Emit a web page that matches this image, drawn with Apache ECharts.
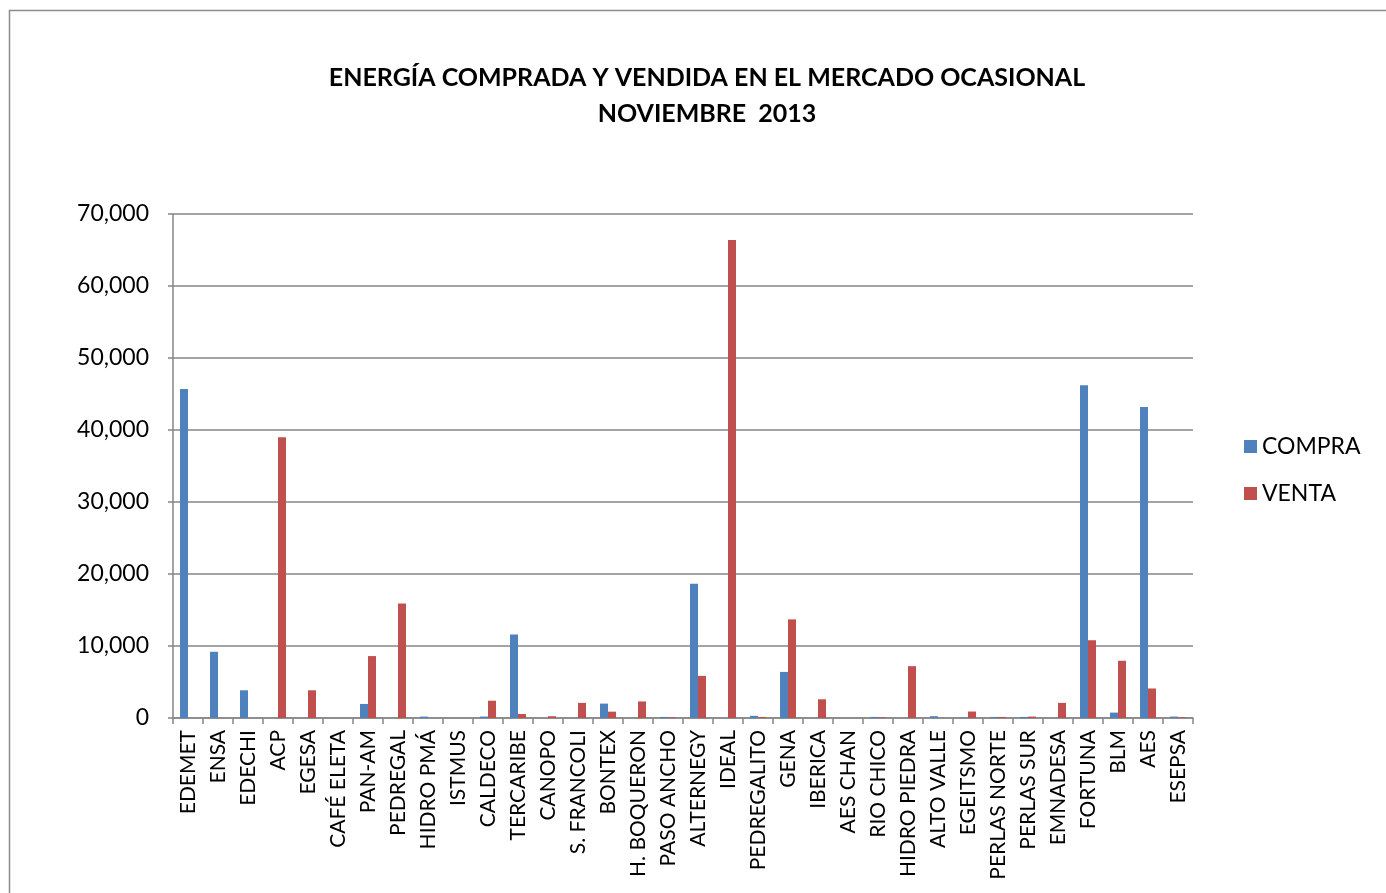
<!DOCTYPE html>
<html><head><meta charset="utf-8">
<script src="https://cdn.jsdelivr.net/npm/echarts@6/dist/echarts.min.js"></script>
<style>html,body{margin:0;padding:0;background:#fff}#c{width:1386px;height:893px}</style>
</head><body><div id="c"></div>
<script>
const categories = ["EDEMET","ENSA","EDECHI","ACP","EGESA","CAFÉ ELETA","PAN-AM","PEDREGAL","HIDRO PMÁ","ISTMUS","CALDECO","TERCARIBE","CANOPO","S. FRANCOLI","BONTEX","H. BOQUERON","PASO ANCHO","ALTERNEGY","IDEAL","PEDREGALITO","GENA","IBERICA","AES CHAN","RIO CHICO","HIDRO PIEDRA","ALTO VALLE","EGEITSMO","PERLAS NORTE","PERLAS SUR","EMNADESA","FORTUNA","BLM","AES","ESEPSA"];
const compra = [45700,9200,3850,0,0,0,1950,0,200,0,200,11600,0,0,2000,0,150,18650,0,300,6400,0,0,150,0,250,50,150,150,0,46200,750,43200,200];
const venta = [0,0,0,39000,3850,0,8600,15900,0,0,2400,550,250,2100,880,2300,100,5850,66400,150,13700,2600,0,100,7200,0,900,150,200,2100,10800,7950,4100,100];
const yTicks = [0,10000,20000,30000,40000,50000,60000,70000];
const titleText = "ENERGÍA COMPRADA Y VENDIDA EN EL MERCADO OCASIONAL\nNOVIEMBRE  2013";

const font = "Lato, 'Open Sans', sans-serif";
const chart = echarts.init(document.getElementById('c'));
chart.setOption({
  animation: false,
  backgroundColor: '#fff',
  graphic: [{type:'rect', left:7, top:8, shape:{width:1400, height:900}, style:{fill:'none', stroke:'#8c8c8c', lineWidth:1.5}, silent:true}],
  title: {
    text: titleText, left: 702, top: 55, textAlign: 'center',
    textStyle: {fontFamily: font, fontSize: 25, fontWeight: 'bold', color: '#000', lineHeight: 36}
  },
  legend: {
    orient: 'vertical', left: 1239, top: 430, itemWidth: 13, itemHeight: 13, itemGap: 24,
    icon: 'rect',
    textStyle: {fontFamily: font, fontSize: 23, color: '#000'},
    data: ['COMPRA','VENTA']
  },
  grid: {left: 173, right: 193, top: 214, bottom: 175, containLabel: false},
  xAxis: {
    type: 'category', data: categories,
    axisLine: {lineStyle: {color: '#868686', width: 1.5}},
    axisTick: {show: true, length: 6, lineStyle: {color: '#868686', width: 1.5}},
    axisLabel: {rotate: 90, interval: 0, fontFamily: font, fontSize: 21, color: '#000', margin: 12}
  },
  yAxis: {
    type: 'value', min: yTicks[0], max: yTicks[yTicks.length-1], interval: 10000,
    axisLine: {show: true, lineStyle: {color: '#868686', width: 1.5}},
    axisTick: {show: true, length: 5, lineStyle: {color: '#868686', width: 1.5}},
    splitLine: {lineStyle: {color: '#868686', width: 1.5}},
    axisLabel: {fontFamily: font, fontSize: 23, color: '#000', margin: 24,
      formatter: v => v.toLocaleString('en-US')}
  },
  series: [
    {name:'COMPRA', type:'bar', data: compra, barWidth: 8, barGap: '0%', itemStyle:{color:'#4F81BD'}},
    {name:'VENTA', type:'bar', data: venta, barWidth: 8, barGap: '0%', itemStyle:{color:'#C0504D'}}
  ]
});
</script></body></html>
